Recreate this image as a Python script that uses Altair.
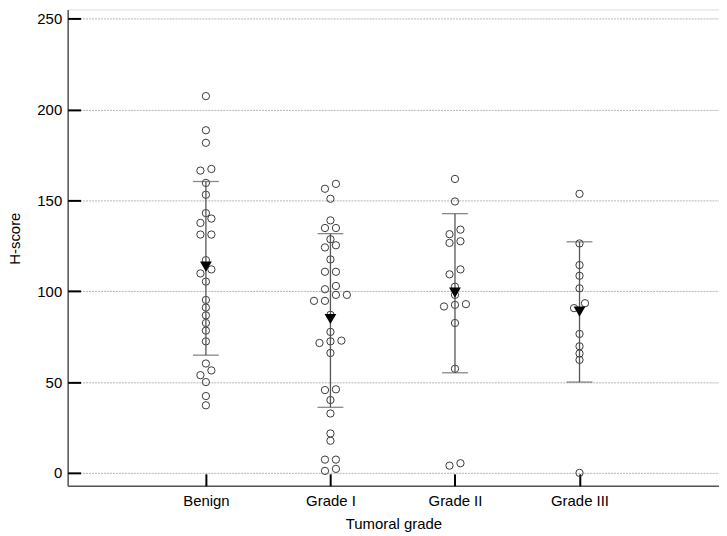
import json
import altair as alt
import pandas as pd

groups = ["Benign", "Grade I", "Grade II", "Grade III"]

benign_vals = [207.4, 188.6, 181.7, 166.4, 167.3, 159.6, 153.1, 143.0, 140.0, 137.6,
               131.2, 131.2, 117.1, 112.0, 109.8, 105.3, 95.2, 91.0, 86.7, 82.5,
               78.3, 72.4, 60.2, 56.4, 53.8, 50.0, 42.3, 37.2]
benign_slot = [0, 0, 0, -1, 1, 0, 0, 0, 1, -1,
               -1, 1, 0, 1, -1, 0, 0, 0, 0, 0,
               0, 0, 0, 1, -1, 0, 0, 0]

grade1_vals = [159.1, 156.4, 150.9, 139.0, 134.8, 134.8, 128.6, 125.3, 124.1, 117.5,
               110.7, 110.7, 102.9, 101.1, 98.0, 98.0, 94.7, 94.7, 87.0, 77.6,
               72.8, 72.4, 71.5, 66.0, 46.0, 45.6, 40.1, 32.7, 21.7, 17.7,
               7.3, 7.3, 2.2, 1.1]
grade1_slot = [1, -1, 0, 0, -1, 1, 0, 1, -1, 0,
               -1, 1, 1, -1, 1, 3, -3, -1, 0, 0,
               2, 0, -2, 0, 1, -1, 0, 0, 0, 0,
               -1, 1, 1, -1]

grade2_vals = [161.8, 149.4, 133.9, 131.4, 127.5, 126.6, 112.0, 109.3, 102.5, 98.0,
               92.9, 92.5, 91.6, 82.5, 57.3, 5.3, 4.0]
grade2_slot = [0, 0, 1, -1, 1, -1, 1, -1, 0, 0,
               2, 0, -2, 0, 0, 1, -1]

grade3_vals = [153.6, 126.3, 114.4, 108.5, 101.6, 93.4, 90.7, 76.5, 69.7, 65.7,
               62.2, 0.0]
grade3_slot = [0, 0, 0, 0, 0, 1, -1, 0, 0, 0, 0, 0]

means = [113.5, 84.7, 99.2, 88.8]
sd_low = [64.8, 36.1, 55.1, 50.0]
sd_high = [160.4, 131.7, 142.7, 127.2]

y_ticks = [0, 50, 100, 150, 200, 250]

SLOT = 0.044  # lateral spread of overlapping dots, in category units

rows = []
for gi, (vals, slots) in enumerate([(benign_vals, benign_slot), (grade1_vals, grade1_slot),
                                    (grade2_vals, grade2_slot), (grade3_vals, grade3_slot)]):
    for v, s in zip(vals, slots):
        rows.append({"g": gi + 1 + s * SLOT, "score": v, "group": groups[gi]})
points = pd.DataFrame(rows)

summary = pd.DataFrame({
    "g": list(range(1, len(groups) + 1)),
    "group": groups,
    "mean": means,
    "lo": sd_low,
    "hi": sd_high,
})

xscale = alt.Scale(domain=[-0.11, 5.12], nice=False, zero=False)
yscale = alt.Scale(domain=[-7.1, 255.1], nice=False, zero=False)
label_expr = json.dumps([""] + groups) + "[datum.value]"
FONT = "Liberation Sans"

main_x_axis = alt.Axis(values=list(range(1, len(groups) + 1)), labelExpr=label_expr,
                       title="Tumoral grade", grid=False, ticks=False, tickSize=0,
                       domainColor="#555555", domainWidth=1.5,
                       labelFont=FONT, labelFontSize=15, labelColor="#000000",
                       labelPadding=8, titleFont=FONT, titleFontSize=15,
                       titleFontWeight="normal", titleColor="#000000", titlePadding=8,
                       orient="bottom")
main_y_axis = alt.Axis(values=y_ticks, title="H-score", grid=True, gridColor="#b4b4b4",
                       gridDash=[2, 1], gridWidth=1, ticks=False, tickSize=0,
                       domainColor="#555555", domainWidth=1.5,
                       labelFont=FONT, labelFontSize=15, labelColor="#000000",
                       labelPadding=6, titleFont=FONT, titleFontSize=15,
                       titleFontWeight="normal", titleColor="#000000",
                       titleX=-53, titleY=230, titleAngle=270, titleAlign="center",
                       titleBaseline="middle", orient="left")

tick_x_axis = alt.Axis(values=list(range(1, len(groups) + 1)), offset=-12, tickSize=12,
                       tickColor="#000000", tickWidth=2, domain=False, labels=False,
                       grid=False, title=None, orient="bottom")
tick_y_axis = alt.Axis(values=y_ticks, offset=-13, tickSize=13, tickColor="#000000",
                       tickWidth=2, domain=False, labels=False, grid=False, title=None,
                       orient="left")

dots = alt.Chart(points).mark_point(shape="circle", filled=False, size=54,
                                    stroke="#3a3a3a", strokeWidth=1, opacity=1).encode(
    x=alt.X("g:Q", scale=xscale, axis=main_x_axis),
    y=alt.Y("score:Q", scale=yscale, axis=main_y_axis),
)

bars = alt.Chart(summary).mark_rule(color="#555555", strokeWidth=1.3).encode(
    x=alt.X("g:Q", scale=xscale, axis=tick_x_axis),
    y=alt.Y("lo:Q", scale=yscale, axis=tick_y_axis),
    y2="hi:Q",
)

caps_lo = alt.Chart(summary).mark_tick(orient="horizontal", size=26, thickness=1.3,
                                       color="#555555").encode(
    x=alt.X("g:Q", scale=xscale, axis=None),
    y=alt.Y("lo:Q", scale=yscale, axis=None),
)
caps_hi = alt.Chart(summary).mark_tick(orient="horizontal", size=26, thickness=1.3,
                                       color="#555555").encode(
    x=alt.X("g:Q", scale=xscale, axis=None),
    y=alt.Y("hi:Q", scale=yscale, axis=None),
)

mean_marks = alt.Chart(summary).mark_point(shape="triangle-down", filled=True, size=140,
                                           color="#000000", opacity=1).encode(
    x=alt.X("g:Q", scale=xscale, axis=None),
    y=alt.Y("mean:Q", scale=yscale, axis=None),
)

chart = alt.layer(dots, bars, caps_lo, caps_hi, mean_marks).resolve_axis(
    x="independent", y="independent"
).properties(
    width=655, height=479,
    autosize=alt.AutoSizeParams(type="none"),
    padding={"left": 60, "top": 0, "right": 0, "bottom": 45},
).configure_view(stroke=None).configure(background="#ffffff")

chart.save("out.html", embed_options={"renderer": "svg", "actions": False})
